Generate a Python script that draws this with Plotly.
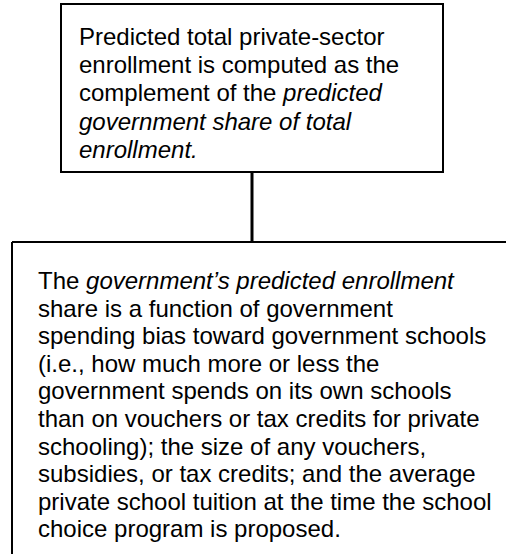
import plotly.graph_objects as go

W, H = 506, 554

top_lines = [
    "Predicted total private-sector",
    "enrollment is computed as the",
    "complement of the <i>predicted</i>",
    "<i>government share of total</i>",
    "<i>enrollment.</i>",
]
bottom_lines = [
    "The <i>government’s predicted enrollment</i>",
    "share is a function of government",
    "spending bias toward government schools",
    "(i.e., how much more or less the",
    "government spends on its own schools",
    "than on vouchers or tax credits for private",
    "schooling); the size of any vouchers,",
    "subsidies, or tax credits; and the average",
    "private school tuition at the time the school",
    "choice program is proposed.",
]

FONT = dict(family="Liberation Sans, Arial, Helvetica, sans-serif", size=24, color="#000000")

fig = go.Figure()
fig.add_trace(go.Scatter(x=[0, W], y=[0, H], mode="markers", marker=dict(opacity=0), hoverinfo="skip", showlegend=False))

shapes = [
    dict(type="rect", xref="x", yref="y", x0=61, x1=443, y0=4, y1=172, line=dict(color="#000", width=2)),
    dict(type="line", xref="x", yref="y", x0=252, x1=252, y0=172, y1=242, line=dict(color="#000", width=3)),
    dict(type="line", xref="x", yref="y", x0=12, x1=W + 5, y0=242, y1=242, line=dict(color="#000", width=2)),
    dict(type="line", xref="x", yref="y", x0=12, x1=12, y0=242, y1=H + 5, line=dict(color="#000", width=2)),
]

annotations = []
for i, t in enumerate(top_lines):
    annotations.append(dict(x=77, y=36 + i * 28.4, xref="x", yref="y", text=t, showarrow=False,
                            xanchor="left", yanchor="middle", align="left", font=FONT))
for i, t in enumerate(bottom_lines):
    annotations.append(dict(x=36, y=280.5 + i * 27.6, xref="x", yref="y", text=t, showarrow=False,
                            xanchor="left", yanchor="middle", align="left", font=FONT))

fig.update_layout(
    width=W, height=H,
    margin=dict(l=0, r=0, t=0, b=0),
    paper_bgcolor="white", plot_bgcolor="white",
    xaxis=dict(range=[0, W], visible=False, fixedrange=True),
    yaxis=dict(range=[H, 0], visible=False, fixedrange=True),
    shapes=shapes, annotations=annotations, showlegend=False,
)
fig.write_html("out.html", config={"displayModeBar": False},
               post_script="document.body.style.margin='0px';document.body.style.overflow='hidden';")
